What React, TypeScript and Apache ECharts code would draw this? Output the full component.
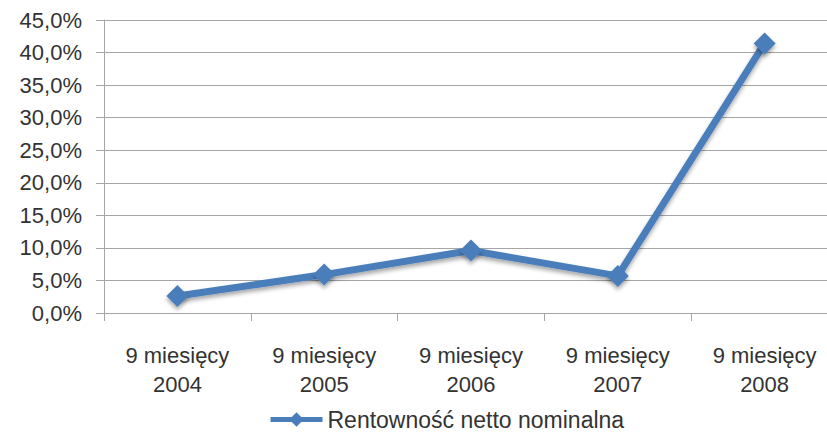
import React, { useEffect, useRef } from "react";
import * as echarts from "echarts";

const categories = ["9 miesięcy\n2004", "9 miesięcy\n2005", "9 miesięcy\n2006", "9 miesięcy\n2007", "9 miesięcy\n2008"];
const seriesName = "Rentowność netto nominalna";
const values = [2.6, 5.9, 9.6, 5.7, 41.4];
const yMin = 0;
const yMax = 45;
const yStep = 5;

const FONT = "'Liberation Sans', Arial, sans-serif";
const TEXT = "#333333";
const GRID = "#a6a6a6";
const BLUE = "#4A7EBB";

export default function App() {
  const ref = useRef<HTMLDivElement>(null);
  useEffect(() => {
    if (!ref.current) return;
    const chart = echarts.init(ref.current, undefined, { renderer: "svg" });
    chart.setOption({
      animation: false,
      backgroundColor: "#ffffff",
      grid: { left: 104, top: 20, height: 293, width: 734, outerBoundsMode: "none", containLabel: false },
      legend: {
        data: [seriesName],
        bottom: -4,
        left: 263,
        itemWidth: 52,
        itemHeight: 18,
        itemGap: 4,
        lineStyle: { width: 5 },
        textStyle: { fontFamily: FONT, fontSize: 23, color: TEXT },
      },
      xAxis: {
        type: "category",
        data: categories,
        boundaryGap: true,
        axisLine: { lineStyle: { color: GRID, width: 1 } },
        axisTick: { show: true, length: 8, lineStyle: { color: GRID } },
        axisLabel: {
          fontFamily: FONT,
          fontSize: 22,
          color: TEXT,
          margin: 28,
          lineHeight: 29,
          interval: 0,
        },
      },
      yAxis: {
        type: "value",
        min: yMin,
        max: yMax,
        interval: yStep,
        axisLine: { show: true, lineStyle: { color: GRID, width: 1 } },
        axisTick: { show: true, length: 8, lineStyle: { color: GRID } },
        splitLine: { lineStyle: { color: GRID, width: 1 } },
        axisLabel: {
          fontFamily: FONT,
          fontSize: 22,
          color: TEXT,
          margin: 22,
          formatter: (v: number) => v.toFixed(1).replace(".", ",") + "%",
        },
      },
      series: [
        {
          name: seriesName,
          type: "line",
          data: values,
          symbol: "diamond",
          symbolSize: 22,
          lineStyle: {
            color: BLUE,
            width: 7,
            shadowBlur: 4,
            shadowColor: "rgba(0,0,0,0.35)",
            shadowOffsetY: 3,
          },
          itemStyle: {
            color: BLUE,
            shadowBlur: 4,
            shadowColor: "rgba(0,0,0,0.35)",
            shadowOffsetY: 3,
          },
        },
      ],
    });
    return () => chart.dispose();
  }, []);
  return <div ref={ref} style={{ width: 827, height: 432, position: "absolute", left: 0, top: 0 }} />;
}
